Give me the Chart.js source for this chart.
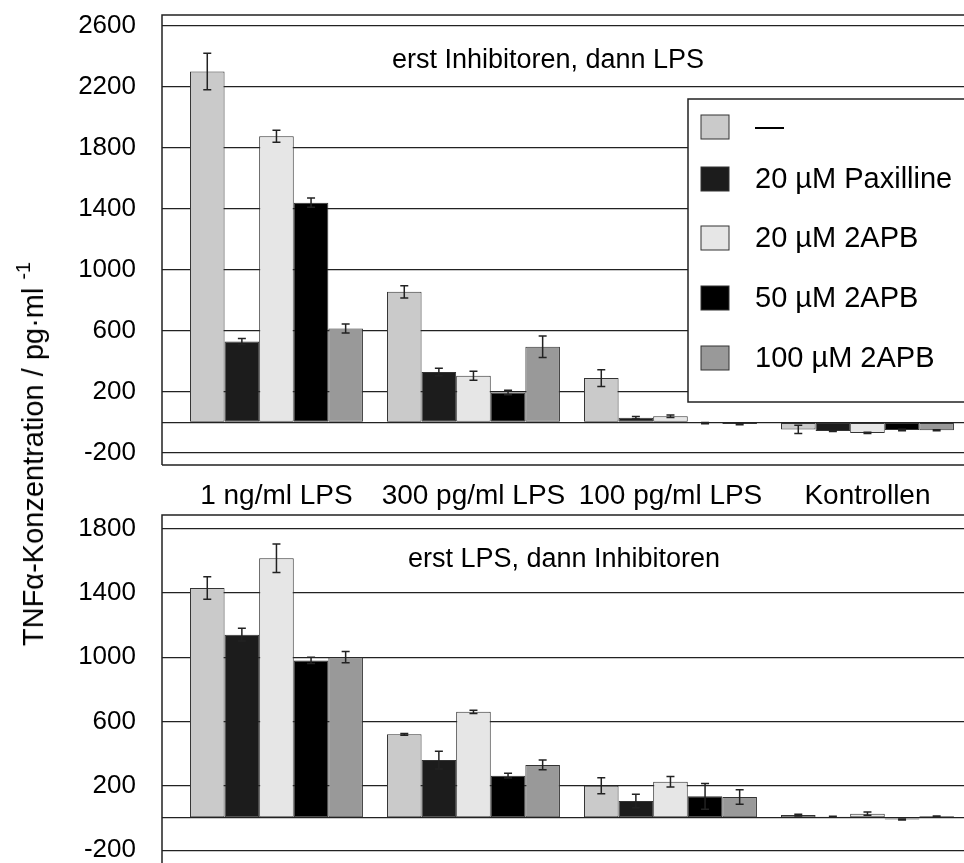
<!DOCTYPE html>
<html lang="de">
<head>
<meta charset="utf-8">
<title>TNFα-Konzentration</title>
<script src="https://cdn.jsdelivr.net/npm/chart.js@4.4.1/dist/chart.umd.min.js"></script>
<style>
  html, body { margin: 0; padding: 0; background: #fff; }
  body { width: 964px; height: 863px; position: relative; overflow: hidden; font-family: "Liberation Sans", Arial, sans-serif; }
  #topBox { position: absolute; left: 0; top: 0; width: 964px; height: 510px; }
  #bottomBox { position: absolute; left: 0; top: 510px; width: 964px; height: 353px; }
  #yTitle { position: absolute; left: 35px; top: 454px; transform: translate(-50%, -50%) rotate(-90deg);
            font-size: 29px; line-height: 29px; white-space: nowrap; color: #000; }
  #yTitle span { font-size: 20px; position: relative; top: -13px; margin-left: 8px; }
</style>
</head>
<body>
<div id="topBox"><canvas id="chartTop"></canvas></div>
<div id="bottomBox"><canvas id="chartBottom"></canvas></div>
<div id="yTitle">TNFα-Konzentration / pg·ml<span>-1</span></div>

<script>
// Kategorien und Serien
const categories = ['1 ng/ml LPS', '300 pg/ml LPS', '100 pg/ml LPS', 'Kontrollen'];
const seriesLabels = ['—', '20 µM Paxilline', '20 µM 2APB', '50 µM 2APB', '100 µM 2APB'];
const seriesColors = ['#cacaca', '#1c1c1c', '#e6e6e6', '#000000', '#999999'];

// oben: erst Inhibitoren, dann LPS
const topNone = [2300, 855, 290, -47];
const topPax = [530, 330, 30, -57];
const top2apb20 = [1875, 305, 40, -70];
const top2apb50 = [1440, 195, -5, -50];
const top2apb100 = [615, 495, -12, -52];
const topNoneErr = [120, 40, 55, 27];
const topPaxErr = [20, 25, 8, 3];
const top2apb20Err = [40, 30, 8, 4];
const top2apb50Err = [30, 15, 4, 5];
const top2apb100Err = [30, 70, 4, 3];
const topTicks = [-200, 0, 200, 600, 1000, 1400, 1800, 2200, 2600];

// unten: erst LPS, dann Inhibitoren
const botNone = [1430, 520, 200, 18];
const botPax = [1140, 360, 105, 8];
const bot2apb20 = [1615, 660, 225, 27];
const bot2apb50 = [980, 263, 135, -10];
const bot2apb100 = [1000, 330, 130, 10];
const botNoneErr = [70, 5, 50, 5];
const botPaxErr = [40, 55, 42, 2];
const bot2apb20Err = [88, 10, 33, 10];
const bot2apb50Err = [20, 15, 80, 3];
const bot2apb100Err = [35, 30, 45, 2];
const bottomTicks = [-200, 0, 200, 600, 1000, 1400, 1800];

const FONT = '"Liberation Sans", Arial, sans-serif';

// Fehlerbalken
const errorBarPlugin = {
    id: 'errorBars',
    afterDatasetsDraw(chart) {
        const ctx = chart.ctx;
        const yScale = chart.scales.y;
        ctx.save();
        ctx.strokeStyle = '#222';
        ctx.lineWidth = 1.5;
        chart.data.datasets.forEach((ds, d) => {
            const meta = chart.getDatasetMeta(d);
            meta.data.forEach((bar, i) => {
                const v = ds.data[i].y, e = ds.errors[i];
                const y1 = yScale.getPixelForValue(v + e);
                const y2 = yScale.getPixelForValue(v - e);
                ctx.beginPath();
                ctx.moveTo(bar.x, y1); ctx.lineTo(bar.x, y2);
                ctx.moveTo(bar.x - 4, y1); ctx.lineTo(bar.x + 4, y1);
                ctx.moveTo(bar.x - 4, y2); ctx.lineTo(bar.x + 4, y2);
                ctx.stroke();
            });
        });
        ctx.restore();
    }
};

// Rahmen um die Zeichenfläche
const framePlugin = {
    id: 'frame',
    beforeDatasetsDraw(chart, args, o) {
        const { ctx, chartArea: a } = chart;
        ctx.save();
        ctx.strokeStyle = '#222';
        ctx.lineWidth = 1.5;
        ctx.beginPath();
        ctx.moveTo(a.left, a.bottom); ctx.lineTo(a.left, a.top); ctx.lineTo(a.right + 5, a.top);
        if (o.bottom) { ctx.moveTo(a.left, a.bottom); ctx.lineTo(a.right + 5, a.bottom); }
        ctx.stroke();
        ctx.restore();
    }
};

// Text in der Zeichenfläche
const innerTitlePlugin = {
    id: 'innerTitle',
    afterDraw(chart, args, o) {
        const ctx = chart.ctx;
        ctx.save();
        ctx.font = `27px ${FONT}`;
        ctx.fillStyle = '#000';
        ctx.textAlign = 'center';
        ctx.textBaseline = 'alphabetic';
        ctx.fillText(o.text, chart.chartArea.left + o.dx, o.y);
        ctx.restore();
    }
};

// Legende im Kasten
const boxLegendPlugin = {
    id: 'boxLegend',
    afterDraw(chart, args, o) {
        if (!o.show) return;
        const ctx = chart.ctx;
        ctx.save();
        ctx.fillStyle = '#fff';
        ctx.strokeStyle = '#222';
        ctx.lineWidth = 1.5;
        ctx.fillRect(o.x, o.y, o.w, o.h);
        ctx.strokeRect(o.x, o.y, o.w, o.h);
        ctx.font = `29px ${FONT}`;
        ctx.textAlign = 'left';
        ctx.textBaseline = 'middle';
        chart.data.datasets.forEach((ds, i) => {
            const cy = o.rows[i];
            ctx.fillStyle = ds.backgroundColor;
            ctx.fillRect(o.x + 13, cy - 12, 28, 24);
            ctx.lineWidth = 1;
            ctx.strokeStyle = '#333';
            ctx.strokeRect(o.x + 13, cy - 12, 28, 24);
            ctx.fillStyle = '#000';
            ctx.fillText(ds.label, o.x + 67, cy + 1);
        });
        ctx.restore();
    }
};

function buildDatasets(values, errors) {
    return values.map((vals, s) => ({
        label: seriesLabels[s],
        data: vals.map((v, i) => ({ x: i, y: v })),
        errors: errors[s],
        backgroundColor: seriesColors[s],
        borderColor: '#333',
        borderWidth: 1,
        borderSkipped: false,
        categoryPercentage: 0.878,
        barPercentage: 1.0
    }));
}

function renderPanel(canvasId, values, errors, cfg) {
    const ctx = document.getElementById(canvasId).getContext('2d');
    return new Chart(ctx, {
        type: 'bar',
        data: { datasets: buildDatasets(values, errors) },
        plugins: [framePlugin, errorBarPlugin, innerTitlePlugin, boxLegendPlugin],
        options: {
            responsive: true,
            maintainAspectRatio: false,
            animation: false,
            layout: { padding: { top: cfg.padTop, left: 0, right: 0, bottom: 0 } },
            plugins: {
                legend: { display: false },
                tooltip: { enabled: false },
                frame: { bottom: cfg.showLabels },
                innerTitle: cfg.title,
                boxLegend: cfg.legend
            },
            scales: {
                x: {
                    type: 'linear',
                    display: cfg.showLabels,
                    min: -0.581, max: 3.49,
                    offset: false,
                    afterBuildTicks: s => { s.ticks = categories.map((c, i) => ({ value: i })); },
                    afterFit: s => {
                        s.height = cfg.showLabels ? 45 : 0;
                        s.paddingLeft = 0; s.paddingRight = 0;
                    },
                    border: { display: false },
                    grid: { display: false, offset: false },
                    ticks: {
                        padding: 6, autoSkip: false, maxRotation: 0, color: '#000',
                        font: { family: FONT, size: 28 },
                        callback: v => categories[v]
                    }
                },
                y: {
                    min: cfg.yMin, max: cfg.yMax,
                    afterBuildTicks: s => { s.ticks = cfg.ticks.map(v => ({ value: v })); },
                    afterFit: s => { s.width = 162; s.paddingTop = 0; s.paddingBottom = 0; },
                    border: { display: false },
                    grid: { color: '#222', lineWidth: 1.2, drawTicks: false },
                    ticks: {
                        padding: 26, color: '#000',
                        font: { family: FONT, size: 26 },
                        callback: v => (v === 0 ? '' : String(v))
                    }
                }
            }
        }
    });
}

renderPanel('chartTop',
    [topNone, topPax, top2apb20, top2apb50, top2apb100],
    [topNoneErr, topPaxErr, top2apb20Err, top2apb50Err, top2apb100Err],
    {
        padTop: 15, yMin: -280, yMax: 2670, ticks: topTicks, showLabels: true,
        title: { text: 'erst Inhibitoren, dann LPS', dx: 386, y: 68 },
        legend: { show: true, x: 688, y: 99, w: 300, h: 303, rows: [127, 179, 238, 298, 358] }
    });

renderPanel('chartBottom',
    [botNone, botPax, bot2apb20, bot2apb50, bot2apb100],
    [botNoneErr, botPaxErr, bot2apb20Err, bot2apb50Err, bot2apb100Err],
    {
        padTop: 5, yMin: -280, yMax: 1884, ticks: bottomTicks, showLabels: false,
        title: { text: 'erst LPS, dann Inhibitoren', dx: 402, y: 57 },
        legend: { show: false }
    });
</script>
</body>
</html>
